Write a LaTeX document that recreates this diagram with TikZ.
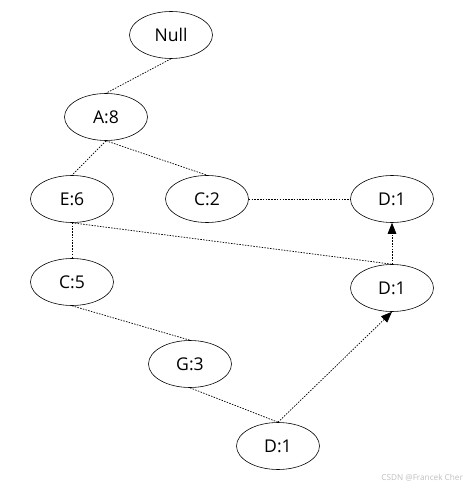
\documentclass[tikz,border=0pt]{standalone}
\usepackage{fontspec}
\setmainfont{Open Sans}
\usetikzlibrary{shapes.geometric,arrows.meta}

\tikzset{
  item/.style={draw, ellipse, line width=0.5pt, minimum width=2.49cm, minimum height=1.41cm, inner sep=0pt, font=\fontsize{15}{17}\selectfont},
  link/.style={line width=0.6pt, dash pattern=on 1.3pt off 1.1pt},
  tip/.style={link, -{Triangle[length=0.33cm,width=0.26cm]}}
}

\begin{document}
\begin{tikzpicture}[x=0.03cm, y=-0.03cm]
	\useasboundingbox (0,0) rectangle (470,489);
	\foreach \name/\x/\y/\txt in {
		null/171/35/Null,
		a8/106/117/A:8,
		e6/72/199/E:6,
		c2/207/199/C:2,
		d1top/392/199/D:1,
		c5/72/282/C:5,
		d1mid/392/288/D:1,
		g3/190/364/G:3,
		d1bot/278/446/D:1
	}
	{
		\node[item] (\name) at (\x,\y) {\txt};
	}
	\foreach \from/\to in {null/a8, a8/e6, a8/c2, e6/c5, e6/d1mid, c5/g3, g3/d1bot}
	{
		\draw[link] (\from.south) -- (\to.north);
	}
	\draw[link] (c2.east) -- (d1top.west);
	\draw[tip] (d1mid.north) -- (d1top.south);
	\draw[tip] (d1bot.north) -- (d1mid.south);
	\node[anchor=east, text=black!25, font=\fontsize{7}{8}\selectfont] (mark) at (467,478) {CSDN @Francek Cher};
\end{tikzpicture}
\end{document}
